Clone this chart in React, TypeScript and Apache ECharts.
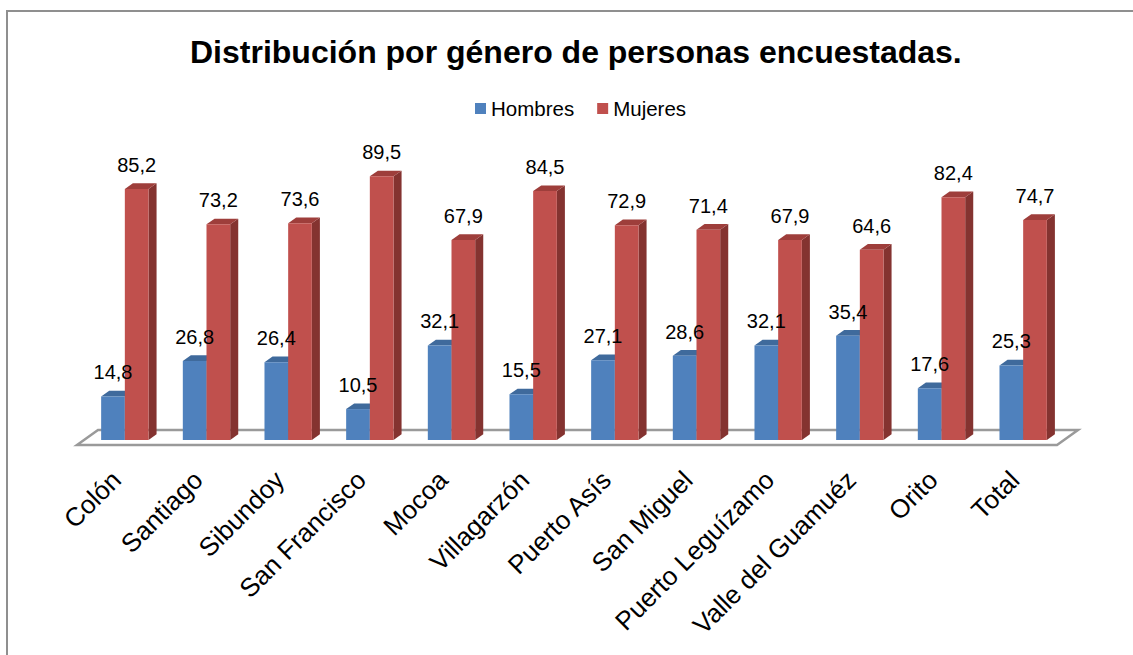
import React, { useEffect, useRef } from "react";
import * as echarts from "echarts";

const categories = [
  "Colón", "Santiago", "Sibundoy", "San Francisco", "Mocoa", "Villagarzón",
  "Puerto Asís", "San Miguel", "Puerto Leguízamo", "Valle del Guamuéz", "Orito", "Total",
];
const hombres = [14.8, 26.8, 26.4, 10.5, 32.1, 15.5, 27.1, 28.6, 32.1, 35.4, 17.6, 25.3];
const mujeres = [85.2, 73.2, 73.6, 89.5, 67.9, 84.5, 72.9, 71.4, 67.9, 64.6, 82.4, 74.7];
const seriesNames = ["Hombres", "Mujeres"];
const titleText = "Distribución por género de personas encuestadas.";

const FONT = "'Liberation Sans', Arial, sans-serif";
const palette = [
  { front: "#4F81BD", top: "#3F6A9C", side: "#365E8E" },
  { front: "#C0504D", top: "#9E3E3B", side: "#843330" },
];

const fmt = (v: number) => v.toFixed(1).replace(".", ",");

function geom(s: number, api: any) {
  const idx = api.value(0);
  const val = api.value(1);
  const base = api.coord([idx, 0]);
  const top = api.coord([idx, val]);
  const band = api.size([1, 0])[0];
  const bw = band * 0.29;
  const cx = base[0];
  const x0 = s === 0 ? cx - bw : cx;
  return { val, x0, x1: x0 + bw, bw, ty: top[1], by: base[1], dx: bw * 0.34, dy: -bw * 0.24 };
}

function makeBarRender(s: number) {
  return (params: any, api: any) => {
    const { x0, x1, bw, ty, by, dx, dy } = geom(s, api);
    const c = palette[s];
    return {
      type: "group",
      children: [
        {
          type: "polygon",
          shape: { points: [[x1, ty], [x1 + dx, ty + dy], [x1 + dx, by + dy], [x1, by]] },
          style: { fill: c.side },
        },
        {
          type: "polygon",
          shape: { points: [[x0, ty], [x0 + dx, ty + dy], [x1 + dx, ty + dy], [x1, ty]] },
          style: { fill: c.top },
        },
        {
          type: "rect",
          shape: { x: x0, y: ty, width: bw, height: by - ty },
          style: { fill: c.front },
        },
      ],
    };
  };
}

function makeLabelRender(s: number) {
  return (params: any, api: any) => {
    const { val, x0, bw, ty } = geom(s, api);
    return {
      type: "text",
      x: x0 + bw / 2,
      y: ty - 14,
      style: {
        text: fmt(val),
        fill: "#000",
        font: `20px ${FONT}`,
        textAlign: "center",
        textVerticalAlign: "bottom",
      },
    };
  };
}

function floorRender(params: any, api: any) {
  if (params.dataIndex !== 0) return null;
  const cs = params.coordSys;
  const left = cs.x;
  const right = cs.x + cs.width;
  const bottom = cs.y + cs.height;
  const fx0 = left - 7;
  const fx1 = right - 7;
  const fy = bottom + 5;
  const ddx = 21;
  const ddy = -15;
  return {
    type: "polygon",
    shape: {
      points: [[fx0, fy], [fx0 + ddx, fy + ddy], [fx1 + ddx, fy + ddy], [fx1, fy]],
    },
    style: { fill: "#ffffff", stroke: "#9a9a9a", lineWidth: 2.5 },
  };
}

export default function App() {
  const ref = useRef<HTMLDivElement>(null);
  useEffect(() => {
    if (!ref.current) return;
    const chart = echarts.init(ref.current, undefined, { renderer: "svg" });
    chart.setOption({
      animation: false,
      backgroundColor: "#ffffff",
      title: {
        text: titleText,
        left: 185,
        top: 31,
        textStyle: { fontFamily: FONT, fontSize: 32, fontWeight: "bold", color: "#000" },
      },
      legend: {
        data: seriesNames,
        top: 98,
        left: 475,
        icon: "rect",
        itemWidth: 11,
        itemHeight: 11,
        itemGap: 23,
        padding: 0,
        textStyle: { fontFamily: FONT, fontSize: 20.5, color: "#000" },
      },
      graphic: [
        {
          type: "rect",
          shape: { x: 7, y: 11, width: 1200, height: 700 },
          style: { fill: "none", stroke: "#8f8f8f", lineWidth: 2 },
          z: 100,
        },
      ],
      grid: { left: 84, right: 69, top: 145.4, bottom: 215 },
      xAxis: {
        type: "category",
        data: categories,
        axisLine: { show: false },
        axisTick: { show: false },
        axisLabel: {
          rotate: 45,
          margin: 27,
          interval: 0,
          padding: [0, 12, 0, 0],
          color: "#000",
          fontFamily: FONT,
          fontSize: 26,
        },
      },
      yAxis: { type: "value", min: 0, max: 100, show: false },
      series: [
        {
          type: "custom",
          name: "floor",
          renderItem: floorRender,
          data: [[0, 0]],
          silent: true,
          z: 1,
        },
        {
          type: "custom",
          name: seriesNames[0],
          itemStyle: { color: palette[0].front },
          renderItem: makeBarRender(0),
          data: hombres.map((v, i) => [i, v]),
          z: 2,
        },
        {
          type: "custom",
          name: seriesNames[1],
          itemStyle: { color: palette[1].front },
          renderItem: makeBarRender(1),
          data: mujeres.map((v, i) => [i, v]),
          z: 3,
        },
        {
          type: "custom",
          name: "labelsH",
          renderItem: makeLabelRender(0),
          data: hombres.map((v, i) => [i, v]),
          silent: true,
          z: 10,
        },
        {
          type: "custom",
          name: "labelsM",
          renderItem: makeLabelRender(1),
          data: mujeres.map((v, i) => [i, v]),
          silent: true,
          z: 10,
        },
      ],
    });
    return () => chart.dispose();
  }, []);
  return (
    <div
      ref={ref}
      style={{ position: "fixed", left: 0, top: 0, width: 1133, height: 655, background: "#fff" }}
    />
  );
}
